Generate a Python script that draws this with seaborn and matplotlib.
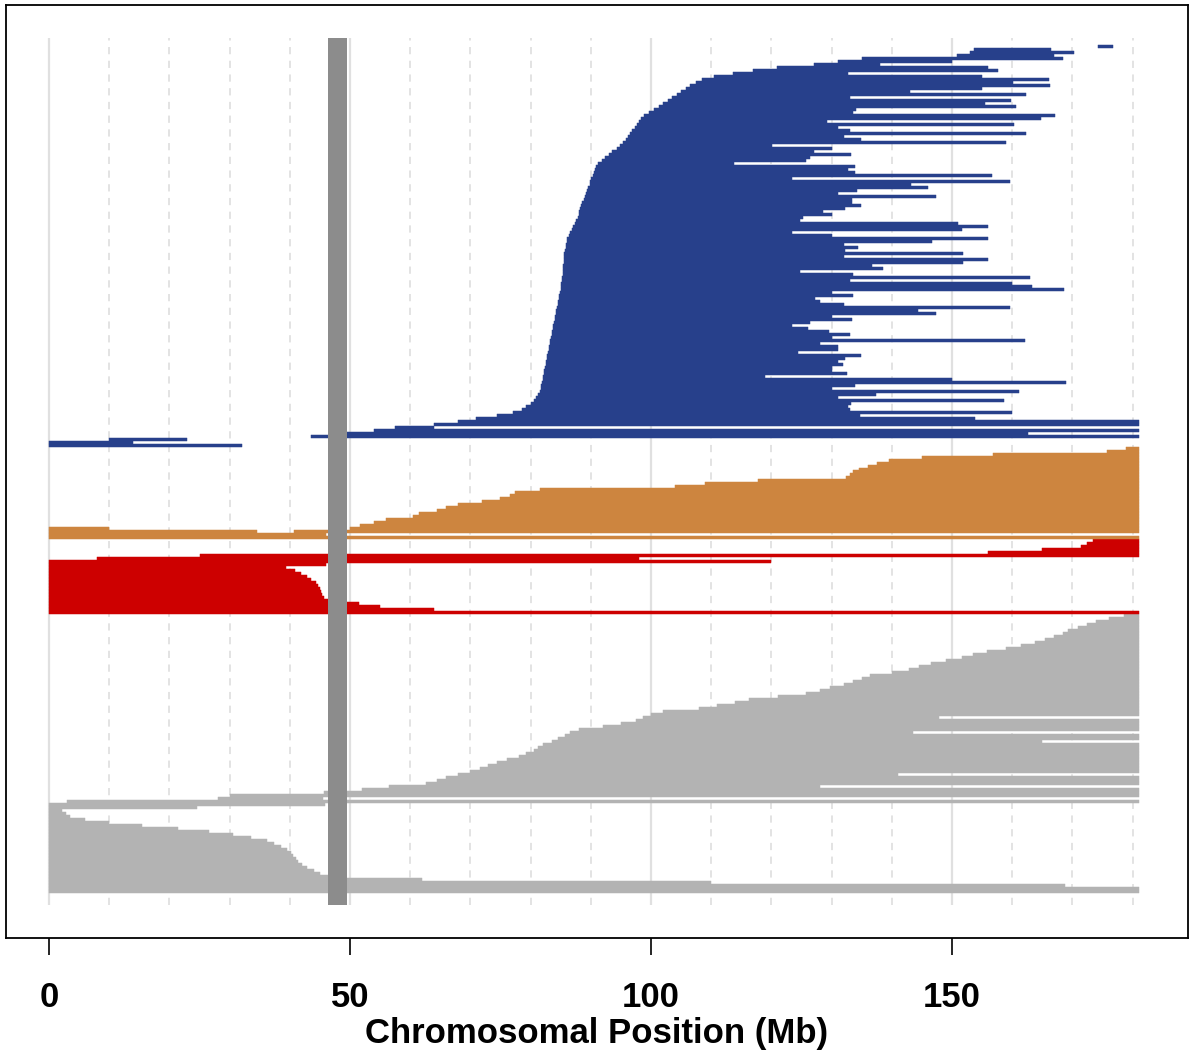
import numpy as np
import matplotlib
matplotlib.use("Agg")
import matplotlib.pyplot as plt
import seaborn as sns

# ---------------- data (Mb) ----------------
CHROM_LEN = 181.0
centromere = (46.4, 49.5)
tick_values = [0, 50, 100, 150]
grid_values = list(range(0, 190, 10))
x_label = "Chromosomal Position (Mb)"

# grey group (bottom-up rows)
gray_start = [0, 0, 0, 0, 0, 0, 0, 0, 0, 0, 0, 0, 0, 0, 0, 0, 0, 0, 0, 0,
              0, 0, 0, 0, 0, 0, 0, 0, 0,
              0, 3, 28, 30, 45.7, 52, 56.5, 62.7, 64.4, 66, 67.9, 70, 71.6, 73,
              74.5, 76, 78, 79.2, 80.5, 81.3, 82, 83.5, 84.5, 85.7, 86.5, 88,
              92, 95, 97.5, 98.7, 100, 102, 108, 111, 114, 116.3, 121.1, 125.7,
              128, 129.8, 132, 133.5, 135, 136.4, 140, 142.8, 144.5, 146.5, 149,
              151.7, 153.5, 155.8, 159, 161.5, 163.8, 165.5, 167, 168.5, 169.3,
              171, 172.5, 174, 176, 178.5]
gray_end = [181, 181, 168.8, 110, 62, 46.5, 45, 44, 42.8, 42, 41.3, 41, 40.6,
            40.2, 39.6, 38.6, 37.4, 36.2, 33.5, 30.5, 26.5, 21.5, 15.5, 10, 6,
            3.5, 2.8, 2.2, 24.6,
            45.8, 181, 45.5, 181, 181, 181, 128, 181, 181, 181, 141, 181, 181,
            181, 181, 181, 181, 181, 181, 181, 181, 165, 181, 181, 143.5, 181,
            181, 181, 181, 147.8, 181, 181, 181, 181, 181, 181, 181, 181, 181,
            181, 181, 181, 181, 181, 181, 181, 181, 181, 181, 181, 181, 181,
            181, 181, 181, 181, 181, 181, 181, 181, 181, 181, 181, 181]

# red group (bottom-up rows)
red_start = [0, 0, 0, 0, 0, 0, 0, 0, 0, 0, 0, 0, 0, 0, 0, 0, 0, 0, 8, 25,
             156, 165, 171.5, 172.5, 173.5]
red_end = [181, 64, 55, 51.5, 47.5, 45.6, 45.4, 45.2, 45.0, 44.7, 44.3, 43.6,
           42.8, 41.8, 40.9, 39.3, 46, 120, 98, 181, 181, 181, 181, 181, 181]

# orange group (row index within group, bottom-up)
orange_row = [0, 1, 2, 2, 3, 3, 4, 5, 6, 7, 8, 9, 10, 11, 12, 13, 14, 15, 16,
              17, 18, 19, 20, 21, 22, 23, 24, 25, 26, 27, 28, 29, 30]
orange_start = [0, 0, 0, 40.7, 0, 50, 51.7, 54, 56, 60.5, 61.5, 64.5, 66, 68,
                72, 75, 76.5, 77.4, 81.5, 104, 109, 117.8, 132.4, 133, 133.5,
                134.5, 136, 137.5, 139.5, 145, 156.8, 175.7, 178.9]
orange_end = [181, 46, 34.5, 181, 10, 181, 181, 181, 181, 181, 181, 181, 181,
              181, 181, 181, 181, 181, 181, 181, 181, 181, 181, 181, 181, 181,
              181, 181, 181, 181, 181, 181, 181]

# blue group (bottom-up rows)
blue_start = [0, 0, 10, 43.5, 49.5, 54, 57.5, 64, 68, 71, 74.5, 77, 78.5, 79.3,
              80, 80.5, 80.9, 81.2, 81.5, 81.7, 81.8, 81.9, 82.0, 82.1, 82.2,
              82.3, 82.4, 82.5, 82.6, 82.7, 82.8, 82.9, 83.0, 83.1, 83.2, 83.3,
              83.4, 83.5, 83.6, 83.7, 83.8, 83.9, 84.0, 84.1, 84.2, 84.3, 84.4,
              84.5, 84.6, 84.7, 84.8, 84.9, 85.0, 85.0, 85.1, 85.2, 85.2, 85.3,
              85.3, 85.4, 85.4, 85.5, 85.5, 85.6, 85.6, 85.7, 85.8, 85.9, 86.0,
              86.1, 86.3, 86.5, 86.8, 87.1, 87.3, 87.6, 87.8, 88.0, 88.1, 88.2,
              88.4, 88.6, 88.8, 89.0, 89.2, 89.4, 89.6, 89.8, 89.9, 90.1, 90.3,
              90.5, 90.7, 90.9, 91.2, 91.8, 92.4, 93.0, 93.6, 94.3, 94.9, 95.4,
              95.8, 96.1, 96.5, 96.9, 97.3, 97.6, 98.0, 98.4, 98.9, 99.6, 100.5,
              101.3, 102.0, 102.8, 103.5, 104.3, 105.0, 105.8, 106.5, 107.5,
              108.5, 110.5, 113.6, 117, 121, 127, 131, 135, 150.8, 153, 153.6,
              174.3]
blue_end = [32.1, 14, 23, 181, 162.6, 181, 64, 181, 181, 153.8, 134.7, 160,
            133, 132.7, 133.2, 158.6, 131, 137.4, 161.1, 130, 133.9, 168.9, 150,
            118.9, 132.6, 130.1, 130.1, 131.9, 131, 132.2, 134.9, 124.4, 131.1,
            131.1, 128, 162.1, 130, 133.1, 129.6, 126, 123.4, 126.4, 133.4, 130,
            147.3, 144.4, 159.6, 132, 128, 127.2, 133.6, 130, 168.6, 163.3,
            160.0, 133, 163.0, 133.6, 124.8, 138.5, 136.7, 151.8, 156.0, 132,
            151.8, 132.2, 134.4, 132, 146.7, 156.0, 130, 123.4, 151.7, 156.0,
            151.0, 124.8, 125.2, 130, 128.6, 132.2, 134.9, 133.4, 133.4, 147.3,
            131.1, 134.2, 146.0, 143.2, 159.6, 123.4, 156.6, 133.9, 132.7, 133.9,
            113.8, 125.7, 126.4, 133.2, 127.1, 130, 120.1, 159.0, 134.9, 132,
            162.3, 133, 131, 160.3, 129.2, 164.8, 167.1, 133.6, 134, 160.6,
            155.5, 159.8, 133, 162.3, 143, 155, 166.3, 160.1, 166.1, 155, 132.7,
            157.6, 156, 138, 150, 168.4, 167, 170.3, 166.4, 176.7]

# colours
COL_GRAY = "#B3B3B3"
COL_RED = "#CD0000"
COL_ORANGE = "#CD853F"
COL_BLUE = "#27408B"
COL_CEN = "#8C8C8C"
COL_GRID = "#E0E0E0"

# ---------------- figure ----------------
sns.set_theme(style="white")
plt.rcParams["font.family"] = ["Liberation Sans", "DejaVu Sans"]
plt.rcParams["text.color"] = "black"
plt.rcParams["axes.labelcolor"] = "black"
plt.rcParams["xtick.color"] = "black"
plt.rcParams["xtick.labelcolor"] = "black"

W, H = 1193, 1052
fig = plt.figure(figsize=(W / 100, H / 100), dpi=100)
ax_l, ax_r, ax_t, ax_b = 6, 1188, 5, 938
ax = fig.add_axes([ax_l / W, 1 - ax_b / H, (ax_r - ax_l) / W, (ax_b - ax_t) / H])

groups = [
    (list(range(len(gray_start))), gray_start, gray_end, COL_GRAY),
    (list(range(len(red_start))), red_start, red_end, COL_RED),
    (orange_row, orange_start, orange_end, COL_ORANGE),
    (list(range(len(blue_start))), blue_start, blue_end, COL_BLUE),
]

offset = 0
for rows, st, en, col in groups:
    rows = np.asarray(rows, dtype=float) + offset
    st = np.asarray(st, dtype=float)
    en = np.asarray(en, dtype=float)
    ax.barh(rows, en - st, left=st, height=1.0, color=col, edgecolor=col,
            linewidth=0.35, zorder=2)
    offset = rows.max() + 1

N = offset
data_top_px, data_bot_px = 45, 893
s = (data_bot_px - data_top_px) / N  # pixels per row
ylo = -0.5 - (ax_b - data_bot_px) / s
yhi = N - 0.5 + (data_top_px - ax_t) / s
ax.set_ylim(ylo, yhi)

# x scale: 0 Mb at px 49, 6.02 px per Mb
pxmb = 6.02
ax.set_xlim((ax_l - 49) / pxmb, (ax_r - 49) / pxmb)

band_lo = -0.5 - 12 / s
band_hi = N - 0.5 + 7 / s
for g in grid_values:
    if g % 50 == 0:
        ax.vlines(g, band_lo, band_hi, color=COL_GRID, lw=1.6, zorder=1)
    else:
        ax.vlines(g, band_lo, band_hi, color=COL_GRID, lw=1.3,
                  linestyles=(0, (4, 3.6)), zorder=1)

ax.fill_between([centromere[0], centromere[1]], band_lo, band_hi,
                color=COL_CEN, lw=0, zorder=3)

ax.set_yticks([])
ax.set_xticks(tick_values)
ax.set_xticklabels([str(t) for t in tick_values], fontsize=25,
                   fontweight="bold", color="black")
ax.tick_params(axis="x", direction="out", length=12, width=1.2, pad=19,
               colors="black", bottom=True)
for sp in ax.spines.values():
    sp.set_visible(True)
    sp.set_color("black")
    sp.set_linewidth(1.3)

ax.set_xlabel(x_label, fontsize=25, fontweight="bold", color="black")
ax.xaxis.set_label_coords(0.5, (ax_b - 1034) / (ax_b - ax_t))
ax.xaxis.label.set_va("center")

fig.savefig("out.png", dpi=100)
